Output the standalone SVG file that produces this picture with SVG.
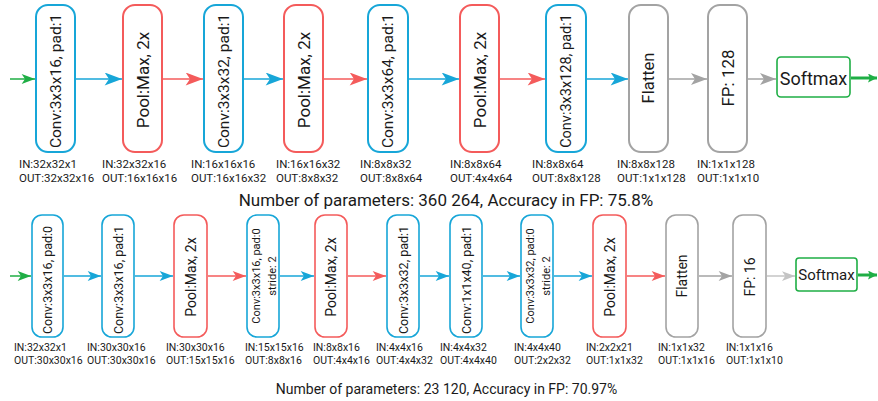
<svg xmlns="http://www.w3.org/2000/svg" width="878" height="401" viewBox="0 0 878 401">
<defs>
<style>
text{font-family:Roboto,"Liberation Sans",sans-serif;fill:#1a1a1a}
.conv{fill:#fff;stroke:#17a6d8;stroke-width:2}
.pool{fill:#fff;stroke:#f45b5b;stroke-width:2}
.gray{fill:#fff;stroke:#a3a3a3;stroke-width:2}
.soft{fill:#fff;stroke:#1fae45;stroke-width:1.6}
.b .conv,.b .pool,.b .gray{stroke-width:1.6}
.t1{font-size:15.5px}
.t2{font-size:17px}
.t3{font-size:16.5px}
.lbl{font-size:11.5px}
.lblb{font-size:10.5px}
.bt1{font-size:12.5px}
.bt2{font-size:14px}
.bt3{font-size:11px}
.lb{stroke:#17a6d8;stroke-width:1.5;fill:none}
.lr{stroke:#f45b5b;stroke-width:1.5;fill:none}
.lg{stroke:#a3a3a3;stroke-width:1.5;fill:none}
.lgr{stroke:#1fae45;stroke-width:1.5;fill:none}
.lgt{stroke:#c4c4c4;stroke-width:1.5;fill:none}
</style>
<marker id="ab" viewBox="0 0 16 12" refX="16" refY="6" markerWidth="18" markerHeight="13" markerUnits="userSpaceOnUse" orient="auto"><path d="M0,0 L16,6 L0,12 L4,6 Z" fill="#17a6d8"/></marker>
<marker id="ar" viewBox="0 0 16 12" refX="16" refY="6" markerWidth="18" markerHeight="13" markerUnits="userSpaceOnUse" orient="auto"><path d="M0,0 L16,6 L0,12 L4,6 Z" fill="#f45b5b"/></marker>
<marker id="ag" viewBox="0 0 16 12" refX="16" refY="6" markerWidth="16" markerHeight="12" markerUnits="userSpaceOnUse" orient="auto"><path d="M0,0 L16,6 L0,12 L4,6 Z" fill="#a3a3a3"/></marker>
<marker id="agr" viewBox="0 0 16 12" refX="16" refY="6" markerWidth="14" markerHeight="10" markerUnits="userSpaceOnUse" orient="auto"><path d="M0,0 L16,6 L0,12 L4,6 Z" fill="#1fae45"/></marker>
<marker id="agt" viewBox="0 0 16 12" refX="16" refY="6" markerWidth="13" markerHeight="10" markerUnits="userSpaceOnUse" orient="auto"><path d="M0,0 L16,6 L0,12 L4,6 Z" fill="#c4c4c4"/></marker>
<marker id="sb" viewBox="0 0 16 12" refX="16" refY="6" markerWidth="14" markerHeight="10" markerUnits="userSpaceOnUse" orient="auto"><path d="M0,0 L16,6 L0,12 L4,6 Z" fill="#17a6d8"/></marker>
<marker id="sr" viewBox="0 0 16 12" refX="16" refY="6" markerWidth="14" markerHeight="10" markerUnits="userSpaceOnUse" orient="auto"><path d="M0,0 L16,6 L0,12 L4,6 Z" fill="#f45b5b"/></marker>
<marker id="sg" viewBox="0 0 16 12" refX="16" refY="6" markerWidth="14" markerHeight="10" markerUnits="userSpaceOnUse" orient="auto"><path d="M0,0 L16,6 L0,12 L4,6 Z" fill="#a3a3a3"/></marker>
<marker id="og" viewBox="0 0 10 10" refX="10" refY="5" markerWidth="9" markerHeight="9" markerUnits="userSpaceOnUse" orient="auto"><path d="M0,0 L10,5 L0,10 L2,5 Z" fill="#1fae45"/></marker>
</defs>

<g id="connectors">
<line class="lgr" x1="10" y1="79" x2="35" y2="79" marker-end="url(#agr)"/>
<line class="lb" x1="75" y1="79" x2="122" y2="79" marker-end="url(#ab)"/>
<line class="lr" x1="162" y1="79" x2="203" y2="79" marker-end="url(#ar)"/>
<line class="lb" x1="244" y1="79" x2="283" y2="79" marker-end="url(#ab)"/>
<line class="lr" x1="324" y1="79" x2="367" y2="79" marker-end="url(#ar)"/>
<line class="lb" x1="409" y1="79" x2="459" y2="79" marker-end="url(#ab)"/>
<line class="lr" x1="500" y1="79" x2="545" y2="79" marker-end="url(#ar)"/>
<line class="lb" x1="587" y1="79" x2="628" y2="79" marker-end="url(#ab)"/>
<line class="lg" x1="669" y1="79" x2="707" y2="79" marker-end="url(#ag)"/>
<line class="lg" x1="748" y1="79" x2="776" y2="79" marker-end="url(#ag)"/>
<line stroke="#1fae45" stroke-width="3" x1="851" y1="78" x2="877" y2="78" marker-end="url(#og)"/>

<line class="lgr" x1="10" y1="276" x2="31" y2="276" marker-end="url(#agr)"/>
<line class="lb" x1="64" y1="276" x2="101" y2="276" marker-end="url(#sb)"/>
<line class="lb" x1="135" y1="276" x2="173" y2="276" marker-end="url(#sb)"/>
<line class="lr" x1="208" y1="276" x2="246" y2="276" marker-end="url(#sr)"/>
<line class="lb" x1="280" y1="276" x2="314" y2="276" marker-end="url(#sb)"/>
<line class="lr" x1="348" y1="276" x2="386" y2="276" marker-end="url(#sr)"/>
<line class="lb" x1="420" y1="276" x2="449" y2="276" marker-end="url(#sb)"/>
<line class="lb" x1="483" y1="276" x2="520" y2="276" marker-end="url(#sb)"/>
<line class="lb" x1="554" y1="276" x2="592" y2="276" marker-end="url(#sb)"/>
<line class="lr" x1="627" y1="276" x2="665" y2="276" marker-end="url(#sr)"/>
<line class="lg" x1="699" y1="276" x2="732" y2="276" marker-end="url(#sg)"/>
<line class="lgt" x1="767" y1="276" x2="795" y2="276" marker-end="url(#agt)"/>
<line stroke="#1fae45" stroke-width="3" x1="858" y1="275" x2="877" y2="275" marker-end="url(#og)"/>
</g>

<g id="top-row">
<g id="t-conv1"><rect class="conv" x="36" y="5" width="39" height="147" rx="12"/><text class="t1" text-anchor="middle" dominant-baseline="central" transform="translate(55.5,81) rotate(-90)">Conv:3x3x16, pad:1</text></g>
<g id="t-pool1"><rect class="pool" x="123" y="5" width="39" height="147" rx="12"/><text class="t2" text-anchor="middle" dominant-baseline="central" transform="translate(142.5,80) rotate(-90)">Pool:Max, 2x</text></g>
<g id="t-conv2"><rect class="conv" x="204" y="5" width="39" height="147" rx="12"/><text class="t1" text-anchor="middle" dominant-baseline="central" transform="translate(223.5,81) rotate(-90)">Conv:3x3x32, pad:1</text></g>
<g id="t-pool2"><rect class="pool" x="284" y="5" width="39" height="147" rx="12"/><text class="t2" text-anchor="middle" dominant-baseline="central" transform="translate(303.5,80) rotate(-90)">Pool:Max, 2x</text></g>
<g id="t-conv3"><rect class="conv" x="368" y="5" width="40" height="147" rx="12"/><text class="t1" text-anchor="middle" dominant-baseline="central" transform="translate(388,81) rotate(-90)">Conv:3x3x64, pad:1</text></g>
<g id="t-pool3"><rect class="pool" x="460" y="5" width="39" height="147" rx="12"/><text class="t2" text-anchor="middle" dominant-baseline="central" transform="translate(479.5,80) rotate(-90)">Pool:Max, 2x</text></g>
<g id="t-conv4"><rect class="conv" x="546" y="5" width="40" height="147" rx="12"/><text class="t1" style="font-size:14.5px" text-anchor="middle" dominant-baseline="central" transform="translate(566,81) rotate(-90)">Conv:3x3x128, pad:1</text></g>
<g id="t-flatten"><rect class="gray" x="629" y="5" width="39" height="147" rx="12"/><text class="t3" text-anchor="middle" dominant-baseline="central" transform="translate(648.5,78) rotate(-90)">Flatten</text></g>
<g id="t-fp"><rect class="gray" x="708" y="5" width="39" height="147" rx="12"/><text class="t2" text-anchor="middle" dominant-baseline="central" transform="translate(727.5,78) rotate(-90)">FP: 128</text></g>
<g id="t-softmax"><rect class="soft" x="777" y="57" width="73" height="40" rx="4"/><text x="813.5" y="78" style="font-size:18px" text-anchor="middle" dominant-baseline="central">Softmax</text></g>
</g>

<g id="top-labels">
<text class="lbl" x="19" y="168">IN:32x32x1</text><text class="lbl" x="19" y="182">OUT:32x32x16</text>
<text class="lbl" x="102" y="168">IN:32x32x16</text><text class="lbl" x="102" y="182">OUT:16x16x16</text>
<text class="lbl" x="191" y="168">IN:16x16x16</text><text class="lbl" x="191" y="182">OUT:16x16x32</text>
<text class="lbl" x="276" y="168">IN:16x16x32</text><text class="lbl" x="276" y="182">OUT:8x8x32</text>
<text class="lbl" x="360" y="168">IN:8x8x32</text><text class="lbl" x="360" y="182">OUT:8x8x64</text>
<text class="lbl" x="450" y="168">IN:8x8x64</text><text class="lbl" x="450" y="182">OUT:4x4x64</text>
<text class="lbl" x="532" y="168">IN:8x8x64</text><text class="lbl" x="532" y="182">OUT:8x8x128</text>
<text class="lbl" x="617" y="168">IN:8x8x128</text><text class="lbl" x="617" y="182">OUT:1x1x128</text>
<text class="lbl" x="697" y="168">IN:1x1x128</text><text class="lbl" x="697" y="182">OUT:1x1x10</text>
</g>

<text x="446" y="206" text-anchor="middle" style="font-size:17px">Number of parameters: 360 264, Accuracy in FP: 75.8%</text>

<g id="bottom-row" class="b">
<g id="b-conv1"><rect class="conv" x="32" y="215" width="31" height="122" rx="10"/><text class="bt1" text-anchor="middle" dominant-baseline="central" transform="translate(47.5,280) rotate(-90)">Conv:3x3x16, pad:0</text></g>
<g id="b-conv2"><rect class="conv" x="102" y="215" width="32" height="122" rx="10"/><text class="bt1" text-anchor="middle" dominant-baseline="central" transform="translate(118,280) rotate(-90)">Conv:3x3x16, pad:1</text></g>
<g id="b-pool1"><rect class="pool" x="174" y="215" width="33" height="122" rx="10"/><text class="bt2" text-anchor="middle" dominant-baseline="central" transform="translate(190.5,277) rotate(-90)">Pool:Max, 2x</text></g>
<g id="b-conv3"><rect class="conv" x="247" y="215" width="32" height="122" rx="10"/><text class="bt3" text-anchor="middle" dominant-baseline="central" transform="translate(263,276) rotate(-90)"><tspan x="0" y="-7">Conv:3x3x16, pad:0</tspan><tspan x="0" y="9">stride: 2</tspan></text></g>
<g id="b-pool2"><rect class="pool" x="315" y="215" width="32" height="122" rx="10"/><text class="bt2" text-anchor="middle" dominant-baseline="central" transform="translate(331,277) rotate(-90)">Pool:Max, 2x</text></g>
<g id="b-conv4"><rect class="conv" x="387" y="215" width="32" height="122" rx="10"/><text class="bt1" text-anchor="middle" dominant-baseline="central" transform="translate(403,280) rotate(-90)">Conv:3x3x32, pad:1</text></g>
<g id="b-conv5"><rect class="conv" x="450" y="215" width="32" height="122" rx="10"/><text class="bt1" text-anchor="middle" dominant-baseline="central" transform="translate(466,280) rotate(-90)">Conv:1x1x40, pad:1</text></g>
<g id="b-conv6"><rect class="conv" x="521" y="215" width="32" height="122" rx="10"/><text class="bt3" text-anchor="middle" dominant-baseline="central" transform="translate(537,276) rotate(-90)"><tspan x="0" y="-7">Conv:3x3x32, pad:0</tspan><tspan x="0" y="9">stride: 2</tspan></text></g>
<g id="b-pool3"><rect class="pool" x="593" y="215" width="33" height="122" rx="10"/><text class="bt2" text-anchor="middle" dominant-baseline="central" transform="translate(609.5,277) rotate(-90)">Pool:Max, 2x</text></g>
<g id="b-flatten"><rect class="gray" x="666" y="215" width="32" height="122" rx="10"/><text class="bt2" text-anchor="middle" dominant-baseline="central" transform="translate(682,276) rotate(-90)">Flatten</text></g>
<g id="b-fp"><rect class="gray" x="733" y="215" width="33" height="122" rx="10"/><text class="bt2" text-anchor="middle" dominant-baseline="central" transform="translate(749.5,277) rotate(-90)">FP: 16</text></g>
<g id="b-softmax"><rect class="soft" x="796" y="258" width="61" height="33" rx="3"/><text x="826.5" y="275" style="font-size:15px" text-anchor="middle" dominant-baseline="central">Softmax</text></g>
</g>

<g id="bottom-labels">
<text class="lblb" x="14" y="351">IN:32x32x1</text><text class="lblb" x="14" y="364">OUT:30x30x16</text>
<text class="lblb" x="87" y="351">IN:30x30x16</text><text class="lblb" x="87" y="364">OUT:30x30x16</text>
<text class="lblb" x="166" y="351">IN:30x30x16</text><text class="lblb" x="166" y="364">OUT:15x15x16</text>
<text class="lblb" x="245" y="351">IN:15x15x16</text><text class="lblb" x="245" y="364">OUT:8x8x16</text>
<text class="lblb" x="313" y="351">IN:8x8x16</text><text class="lblb" x="313" y="364">OUT:4x4x16</text>
<text class="lblb" x="376" y="351">IN:4x4x16</text><text class="lblb" x="376" y="364">OUT:4x4x32</text>
<text class="lblb" x="440" y="351">IN:4x4x32</text><text class="lblb" x="440" y="364">OUT:4x4x40</text>
<text class="lblb" x="514" y="351">IN:4x4x40</text><text class="lblb" x="514" y="364">OUT:2x2x32</text>
<text class="lblb" x="586" y="351">IN:2x2x21</text><text class="lblb" x="586" y="364">OUT:1x1x32</text>
<text class="lblb" x="658" y="351">IN:1x1x32</text><text class="lblb" x="658" y="364">OUT:1x1x16</text>
<text class="lblb" x="726" y="351">IN:1x1x16</text><text class="lblb" x="726" y="364">OUT:1x1x10</text>
</g>

<text x="446.5" y="394" text-anchor="middle" style="font-size:14px">Number of parameters: 23 120, Accuracy in FP: 70.97%</text>
</svg>
